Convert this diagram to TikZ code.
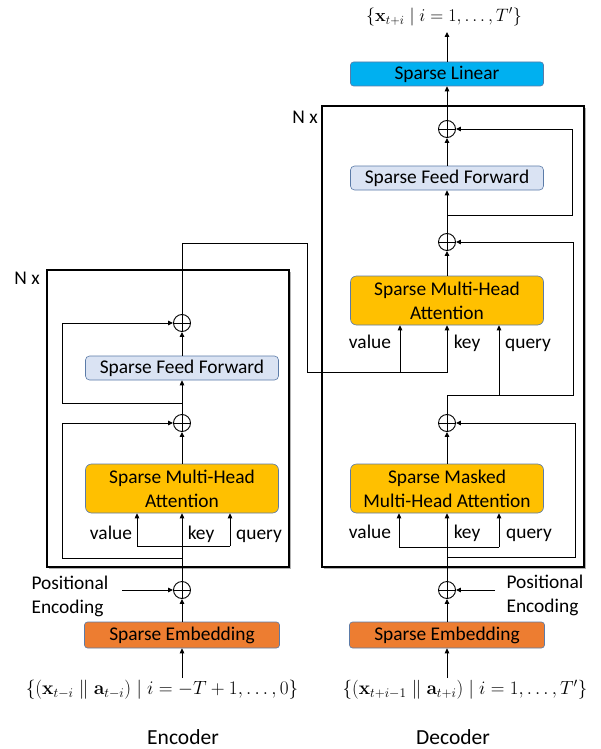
\documentclass[tikz,border=0pt]{standalone}
\usepackage[no-math]{fontspec}
\setmainfont{Carlito}
\usetikzlibrary{arrows.meta,shadows}
\definecolor{attc}{HTML}{FFC000}
\definecolor{ffc}{HTML}{DAE3F3}
\definecolor{embc}{HTML}{ED7D31}
\definecolor{linc}{HTML}{00B0F0}
\definecolor{bordc}{HTML}{5B7BA8}
\newcommand{\fsz}{\fontsize{19.4}{24}\selectfont}
\newcommand{\msz}{\fontsize{17.28}{22}\selectfont}
\begin{document}
\begin{tikzpicture}[x=1pt,y=-1pt,
  every node/.style={font=\fsz},
  blk/.style={draw=bordc, line width=0.6pt, inner sep=0pt, align=center, minimum width=193pt},
  att/.style={blk, fill=attc, rounded corners=6pt, minimum height=49pt},
  ffw/.style={blk, fill=ffc, rounded corners=4pt, minimum height=24pt},
  emb/.style={blk, fill=embc, rounded corners=3pt, minimum height=26pt, minimum width=195pt},
  lin/.style={blk, fill=linc, rounded corners=3pt, minimum height=24pt},
  plusnode/.style={circle, draw, line width=0.9pt, minimum size=17pt, inner sep=0pt,
    path picture={\draw[line width=0.9pt] (path picture bounding box.north) -- (path picture bounding box.south)
      (path picture bounding box.west) -- (path picture bounding box.east);}},
  nxbox/.style={draw, line width=2pt, fill=white, inner sep=0pt,
    drop shadow={shadow xshift=1.8pt, shadow yshift=-1.8pt, fill=black!30, opacity=1}},
  ln/.style={line width=0.9pt},
  arr/.style={ln, -{Triangle[length=5pt,width=4.5pt]}},
  lbl/.style={anchor=base}
]
\useasboundingbox (0,0) rectangle (600,749);

% N x boxes
\node[nxbox, minimum width=242pt, minimum height=297pt] (encbox) at (168,418.5) {};
\node[nxbox, minimum width=262pt, minimum height=461pt] (decbox) at (453,336.5) {};
\node (encNx) at (27,278) {N x};
\node (decNx) at (305,117) {N x};

% Encoder
\node[plusnode] (encPlus2) at (182,323) {};
\node[ffw] (encFF) at (182,368) {Sparse Feed Forward};
\node[plusnode] (encPlus1) at (182,423) {};
\node[att] (encAtt) at (182,488.5) {Sparse Multi-Head\\Attention};
\node[lbl] (encV) at (111,539) {value};
\node[lbl] (encK) at (201,539) {key};
\node[lbl] (encQ) at (259,539) {query};
\node[plusnode] (encPos) at (182,590) {};
\node[anchor=west, align=left] (encPE) at (28,596) {Positional\\Encoding};
\node[emb] (encEmb) at (182,635) {Sparse Embedding};
\node[font=\msz] (encIn) at (162,690) {\scalebox{1.11}{$\{(\mathbf{x}_{t-i}\parallel\mathbf{a}_{t-i})\mid i=-T+1,\ldots,0\}$}};
\node[font=\fontsize{21.5}{24}\selectfont] (encLbl) at (183,737) {Encoder};

% Decoder
\node[font=\msz] (decOut) at (444,17) {\scalebox{1.04}{$\{\mathbf{x}_{t+i}\mid i=1,\ldots,T'\}$}};
\node[lin] (decLin) at (447,74) {Sparse Linear};
\node[plusnode] (decPlus2) at (447,129) {};
\node[ffw] (decFF) at (447,178) {Sparse Feed Forward};
\node[plusnode] (decPlus1) at (447,242) {};
\node[att] (decAtt2) at (447,300.5) {Sparse Multi-Head\\Attention};
\node[lbl] (d2V) at (370,348) {value};
\node[lbl] (d2K) at (467,348) {key};
\node[lbl] (d2Q) at (528,348) {query};
\node[plusnode] (decPos) at (447,590) {};
\node[plusnode] (decPlus0) at (447,423) {};
\node[att] (decAtt1) at (447,488.5) {Sparse Masked\\Multi-Head Attention};
\node[lbl] (d1V) at (370,538) {value};
\node[lbl] (d1K) at (467,538) {key};
\node[lbl] (d1Q) at (529,538) {query};
\node[anchor=west, align=left] (decPE) at (503,595) {Positional\\Encoding};
\node[emb] (decEmb) at (447,635) {Sparse Embedding};
\node[font=\msz] (decIn) at (465,690) {\scalebox{1.1}{$\{(\mathbf{x}_{t+i-1}\parallel\mathbf{a}_{t+i})\mid i=1,\ldots,T'\}$}};
\node[font=\fontsize{21.5}{24}\selectfont] (decLbl) at (453,737) {Decoder};

% coordinates
\coordinate (ei) at (182,678);
\coordinate (ep) at (122,590);
\coordinate (ev) at (137,546);
\coordinate (eq) at (230,546);
\coordinate (er1) at (62,558);
\coordinate (er2) at (62,403);
\coordinate (eo1) at (307,243);
\coordinate (eo2) at (307,372);
\coordinate (dv2) at (400,372);
\coordinate (dk2) at (447,372);
\coordinate (di) at (447,678);
\coordinate (dp) at (495,590);
\coordinate (dv1) at (399,547);
\coordinate (dq1) at (499,547);
\coordinate (dr1) at (575,557);
\coordinate (dr2) at (573,395);
\coordinate (dq2) at (499,395);
\coordinate (dr3) at (572,215);
\coordinate (dout) at (447,32);

% Encoder connectors
\draw[arr] (ei) -- (encEmb.south);
\draw[arr] (encEmb) -- (encPos);
\draw[arr] (ep) -- (encPos.west);
\draw[arr] (encPos) -- (encAtt);
\draw[ln] (ev) -- (eq);
\draw[arr] (ev) -- (ev |- encAtt.south);
\draw[arr] (eq) -- (eq |- encAtt.south);
\draw[arr] (er1 -| encPos) -- (er1) |- (encPlus1.west);
\draw[arr] (encAtt) -- (encPlus1);
\draw[arr] (encPlus1) -- (encFF);
\draw[arr] (er2 -| encPlus1) -- (er2) |- (encPlus2.west);
\draw[arr] (encFF) -- (encPlus2);
\draw[arr] (encPlus2.north) |- (eo1) -- (eo2) -- (dk2) -- (dk2 |- decAtt2.south);
\draw[arr] (dv2) -- (dv2 |- decAtt2.south);

% Decoder connectors
\draw[arr] (di) -- (decEmb.south);
\draw[arr] (decEmb) -- (decPos);
\draw[arr] (dp) -- (decPos.east);
\draw[arr] (decPos) -- (decAtt1);
\draw[ln] (dv1) -- (dq1);
\draw[arr] (dv1) -- (dv1 |- decAtt1.south);
\draw[arr] (dq1) -- (dq1 |- decAtt1.south);
\draw[arr] (dr1 -| decPos) -- (dr1) |- (decPlus0.east);
\draw[arr] (decAtt1) -- (decPlus0);
\draw[arr] (decPlus0.north) |- (dr2) |- (decPlus1.east);
\draw[arr] (dq2) -- (dq2 |- decAtt2.south);
\draw[arr] (decAtt2) -- (decPlus1);
\draw[arr] (decPlus1) -- (decFF);
\draw[arr] (dr3 -| decPlus1) -- (dr3) |- (decPlus2.east);
\draw[arr] (decFF) -- (decPlus2);
\draw[arr] (decPlus2) -- (decLin);
\draw[arr] (decLin) -- (dout);
\end{tikzpicture}
\end{document}
